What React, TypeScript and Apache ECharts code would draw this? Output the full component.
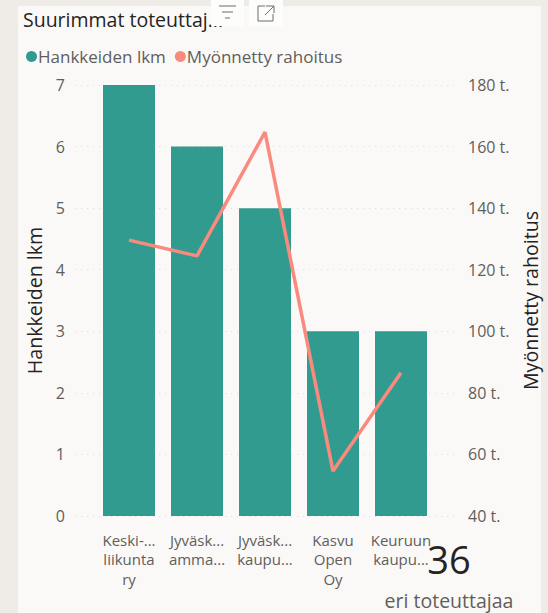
import React, { useEffect, useRef } from "react";
import * as echarts from "echarts";

const categories = ["Keski-...\nliikunta\nry", "Jyväsk...\namma...", "Jyväsk...\nkaupu...", "Kasvu\nOpen\nOy", "Keuruun\nkaupu..."];
const projectCounts = [7, 6, 5, 3, 3];
const funding = [129600, 124500, 164700, 54600, 86500];
const FONT = "'Open Sans', 'Noto Sans', sans-serif";

export default function App() {
  const ref = useRef<HTMLDivElement>(null);
  useEffect(() => {
    const chart = echarts.init(ref.current!, null, { renderer: "svg" });
    const gridBase = { top: 85, bottom: 613 - 516, outerBoundsMode: "none" };
    chart.setOption({
      animation: false,
      backgroundColor: "#efece7",
      title: {
        text: "Suurimmat toteuttaj...",
        left: 18, top: 4,
        textStyle: { fontFamily: FONT, fontSize: 19.5, fontWeight: 400, color: "#252423" },
      },
      legend: {
        left: 21, top: 43, itemWidth: 11, itemHeight: 11, itemGap: 9,
        icon: "circle",
        textStyle: { fontFamily: FONT, fontSize: 17, color: "#605e5c", padding: [0, 0, 0, -4] },
        data: ["Hankkeiden lkm", "Myönnetty rahoitus"],
      },
      grid: [
        { ...gridBase, left: 95, width: 340 },
        { ...gridBase, left: 75, width: 382 },
      ],
      xAxis: [
        {
          type: "category", gridIndex: 0, data: categories,
          axisLine: { show: false }, axisTick: { show: false },
          axisLabel: { interval: 0, margin: 14, lineHeight: 19.5, fontFamily: FONT, fontSize: 15, color: "#605e5c" },
        },
        { type: "value", gridIndex: 1, show: false, min: 0, max: 1 },
      ],
      yAxis: [
        {
          type: "value", gridIndex: 0, min: 0, max: 7, interval: 1, position: "left", offset: 20,
          name: "Hankkeiden lkm", nameLocation: "middle", nameGap: 28, nameRotate: 90,
          nameTextStyle: { fontFamily: FONT, fontSize: 19.6, color: "#252423" },
          axisLine: { show: false }, axisTick: { show: false }, splitLine: { show: false },
          axisLabel: { margin: 10, fontFamily: FONT, fontSize: 16, color: "#605e5c" },
        },
        {
          type: "value", gridIndex: 0, min: 40000, max: 180000, interval: 20000, position: "right", offset: 22,
          name: "Myönnetty rahoitus", nameLocation: "middle", nameGap: 52, nameRotate: 90,
          nameTextStyle: { fontFamily: FONT, fontSize: 19.6, color: "#252423" },
          axisLine: { show: false }, axisTick: { show: false }, splitLine: { show: false },
          axisLabel: { margin: 11, fontFamily: FONT, fontSize: 16, color: "#605e5c", formatter: (v: number) => `${v / 1000} t.` },
        },
        {
          type: "value", gridIndex: 1, min: 0, max: 7, interval: 1,
          axisLabel: { show: false }, axisLine: { show: false }, axisTick: { show: false },
          splitLine: { show: true, lineStyle: { color: "#dcdcdc", type: [1, 5], width: 1 } },
        },
      ],
      series: [
        {
          name: "Hankkeiden lkm", type: "bar", xAxisIndex: 0, yAxisIndex: 0, data: projectCounts,
          barWidth: 52, itemStyle: { color: "#329b8f" }, z: 2,
        },
        {
          name: "Myönnetty rahoitus", type: "line", xAxisIndex: 0, yAxisIndex: 1, data: funding,
          showSymbol: false, symbol: "circle", lineStyle: { color: "#fb8a7e", width: 3.5 }, itemStyle: { color: "#fb8a7e" }, z: 3,
        },
      ],
      graphic: [
        { type: "rect", z: -10, shape: { x: 18, y: 6, width: 523, height: 607 }, style: { fill: "#fbf9f7" } },
        { type: "rect", z: 10, shape: { x: 211, y: 0, width: 33, height: 26 }, style: { fill: "#fdfdfc" } },
        { type: "rect", z: 10, shape: { x: 249, y: 0, width: 34, height: 26 }, style: { fill: "#fdfdfc" } },
        { type: "line", z: 11, shape: { x1: 219, y1: 6, x2: 236, y2: 6 }, style: { stroke: "#6f6d6b", lineWidth: 1 } },
        { type: "line", z: 11, shape: { x1: 222, y1: 12, x2: 233, y2: 12 }, style: { stroke: "#6f6d6b", lineWidth: 1 } },
        { type: "line", z: 11, shape: { x1: 225, y1: 18, x2: 230, y2: 18 }, style: { stroke: "#6f6d6b", lineWidth: 1 } },
        { type: "polyline", z: 11, shape: { points: [[265, 6], [258, 6], [258, 21], [273, 21], [273, 14]] }, style: { stroke: "#6f6d6b", lineWidth: 1, fill: "none" } },
        { type: "polyline", z: 11, shape: { points: [[266, 6], [274, 6], [274, 13]] }, style: { stroke: "#6f6d6b", lineWidth: 1, fill: "none" } },
        { type: "line", z: 11, shape: { x1: 274, y1: 6, x2: 265, y2: 15 }, style: { stroke: "#6f6d6b", lineWidth: 1 } },
        { type: "text", z: 12, x: 449, y: 559, style: { text: "36", fontFamily: FONT, fontSize: 38, fill: "#252423", align: "center", verticalAlign: "middle" } },
        { type: "text", z: 12, x: 449, y: 600, style: { text: "eri toteuttajaa", fontFamily: FONT, fontSize: 19.5, fill: "#605e5c", align: "center", verticalAlign: "middle" } },
      ],
    });
    return () => chart.dispose();
  }, []);
  return <div ref={ref} style={{ position: "fixed", left: 0, top: 0, width: 548, height: 613 }} />;
}
